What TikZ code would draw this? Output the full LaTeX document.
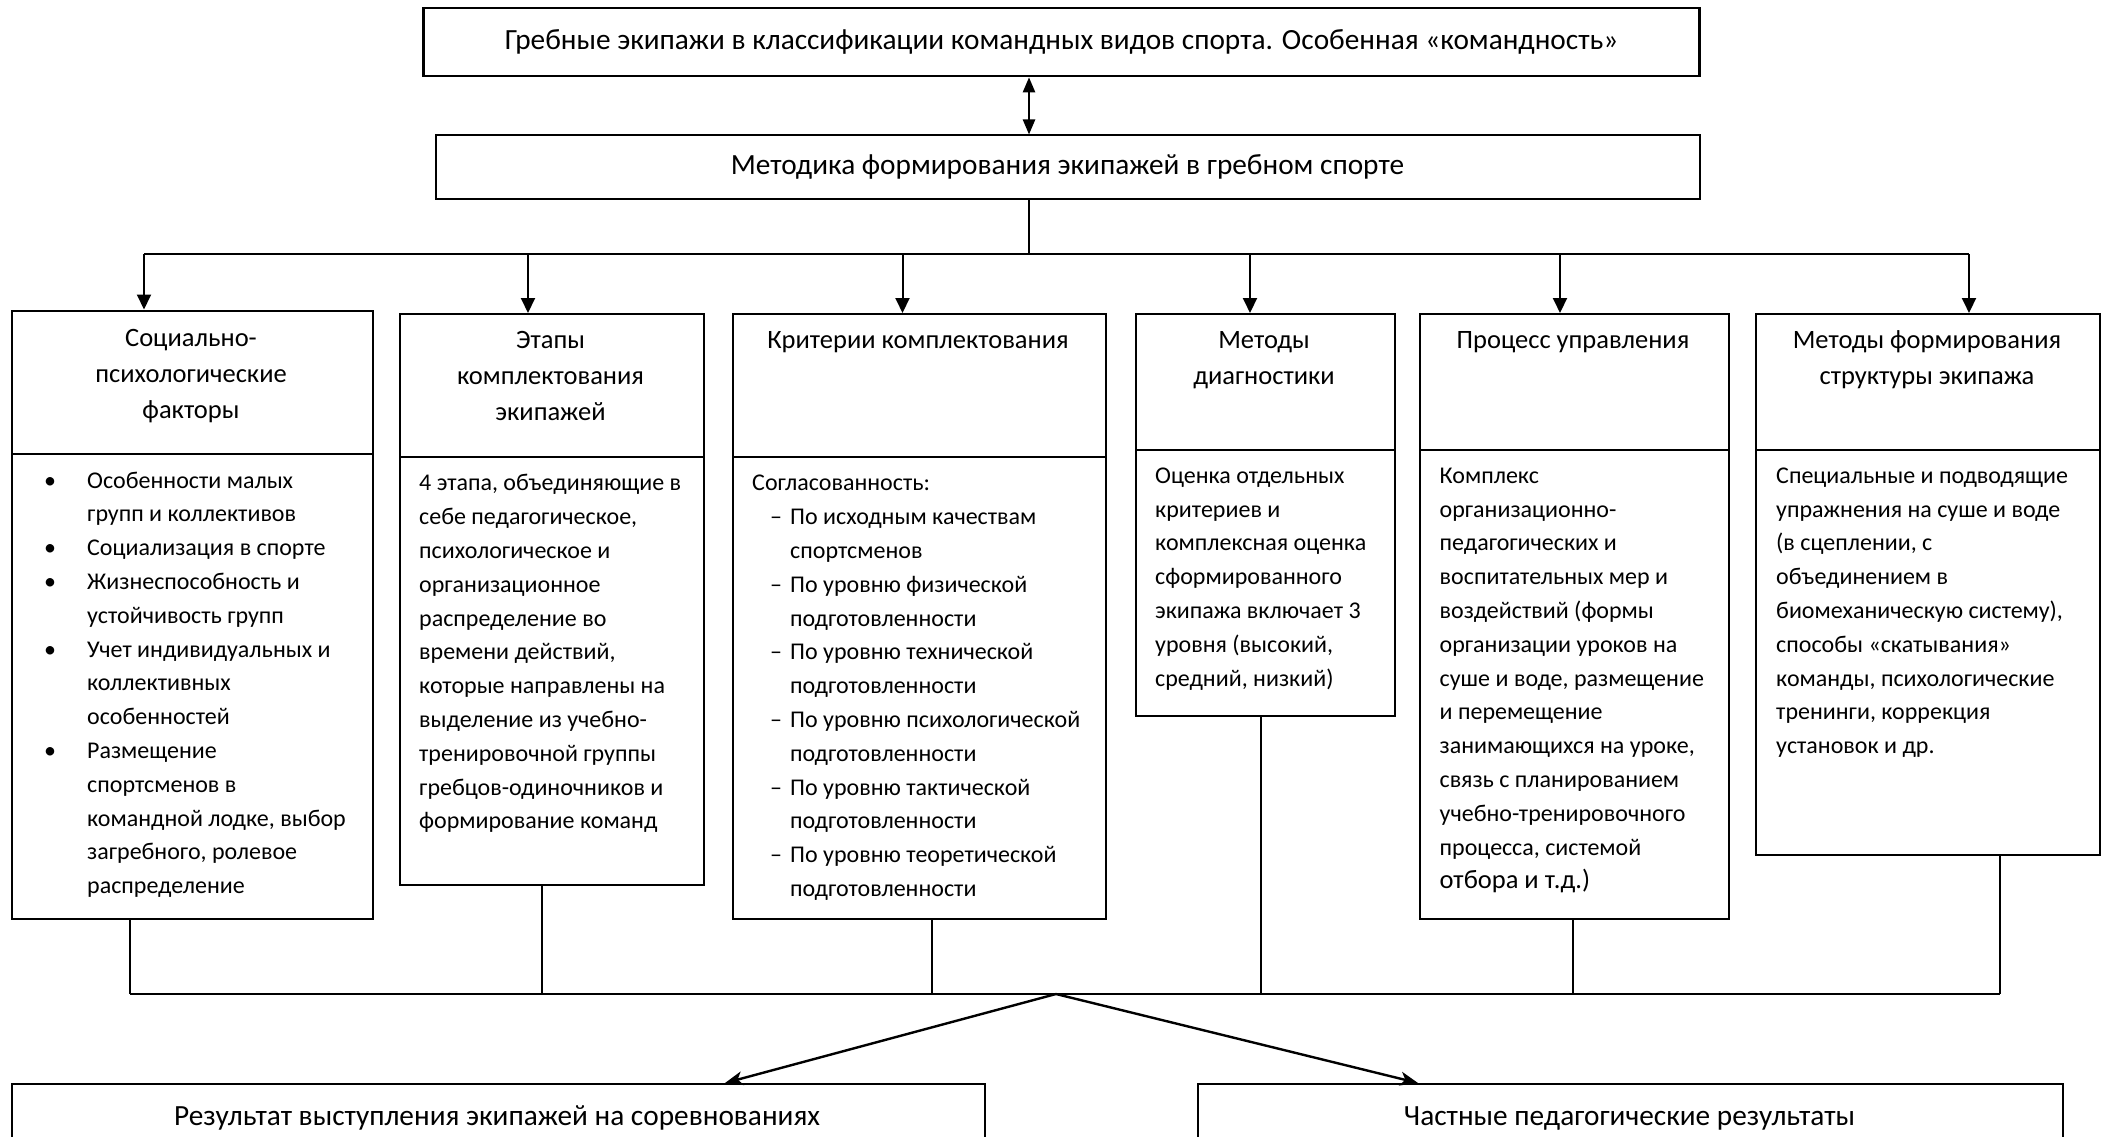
\documentclass[tikz,border=0pt]{standalone}
\usepackage{fontspec}
\setmainfont{Carlito}
\usetikzlibrary{arrows.meta}
\newcommand\bulit{\hspace*{4pt}\makebox[43pt][l]{\textbullet}}
\newcommand\bulco{\hspace*{47pt}}
\newcommand\dshit{\hspace*{18pt}\makebox[20pt][l]{–}}
\newcommand\dshco{\hspace*{38pt}}
\begin{document}
\begin{tikzpicture}[x=1pt,y=-1pt,
  box/.style={draw, line width=2pt, inner sep=0pt, anchor=north west},
  ttl/.style={font=\fontsize{29.3}{34}\selectfont},
  hd/.style={anchor=north, align=center, inner sep=0pt, font=\fontsize{26.5}{36}\selectfont},
  bd/.style={anchor=north west, align=left, inner sep=0pt, font=\fontsize{24}{33.8}\selectfont},
  conn/.style={line width=2pt},
  arr/.style={line width=2pt, -{Triangle[length=15pt,width=14pt]}},
  dbl/.style={line width=2.4pt, {Triangle[length=15pt,width=12pt]}-{Triangle[length=15pt,width=12pt]}},
  arrd/.style={line width=2.4pt, -{Stealth[length=18pt,width=14pt,inset=5pt]}}]
\path[use as bounding box] (0,0) rectangle (2104,1137);
\fill[white] (0,0) rectangle (2104,1137);
\clip (0,0) rectangle (2104,1137);

% top boxes
\node[box, line width=2.6pt, anchor=center, minimum width=1276pt, minimum height=68pt, ttl] (top) at (1061.5,42) {Гребные экипажи в классификации командных видов спорта. Особенная «командность»};
\node[box, anchor=center, minimum width=1264pt, minimum height=63pt, ttl] (met) at (1067.5,167) {Методика формирования экипажей в гребном спорте};

% column frames
\node[box, minimum width=361pt, minimum height=143.5pt] (h1) at (10.5,309.5) {};
\node[box, minimum width=361pt, minimum height=465pt] (b1) at (10.5,453) {};
\node[box, minimum width=304pt, minimum height=142.5pt] (h2) at (398.5,313) {};
\node[box, minimum width=304pt, minimum height=428.5pt] (b2) at (398.5,455.5) {};
\node[box, minimum width=373.5pt, minimum height=142.5pt] (h3) at (731.5,313) {};
\node[box, minimum width=373.5pt, minimum height=462.5pt] (b3) at (731.5,455.5) {};
\node[box, minimum width=259.5pt, minimum height=136pt] (h4) at (1134.5,313) {};
\node[box, minimum width=259.5pt, minimum height=266pt] (b4) at (1134.5,449) {};
\node[box, minimum width=308.5pt, minimum height=136pt] (h5) at (1419,313) {};
\node[box, minimum width=308.5pt, minimum height=469pt] (b5) at (1419,449) {};
\node[box, minimum width=344pt, minimum height=136pt] (h6) at (1755,313) {};
\node[box, minimum width=344pt, minimum height=405pt] (b6) at (1755,449) {};

% header texts
\node[hd] (h1t) at (191,321.4) {\strut Социально-\\психологические\\факторы};
\node[hd] (h2t) at (550.5,322.6) {\strut Этапы\\комплектования\\экипажей};
\node[hd] (h3t) at (918,322.6) {\strut Критерии комплектования};
\node[hd] (h4t) at (1264,322.6) {\strut Методы\\диагностики};
\node[hd] (h5t) at (1573,322.6) {\strut Процесс управления};
\node[hd] (h6t) at (1927,322.6) {\strut Методы формирования\\структуры экипажа};

% body texts
\node[bd] (b1t) at (40,464.2) {\strut\bulit Особенности малых\\
\bulco групп и коллективов\\
\bulit Социализация в спорте\\
\bulit Жизнеспособность и\\
\bulco устойчивость групп\\
\bulit Учет индивидуальных и\\
\bulco коллективных\\
\bulco особенностей\\
\bulit Размещение\\
\bulco спортсменов в\\
\bulco командной лодке, выбор\\
\bulco загребного, ролевое\\
\bulco распределение};

\node[bd] (b2t) at (419,467) {\strut 4 этапа, объединяющие в\\
себе педагогическое,\\
психологическое и\\
организационное\\
распределение во\\
времени действий,\\
которые направлены на\\
выделение из учебно-\\
тренировочной группы\\
гребцов-одиночников и\\
формирование команд};

\node[bd] (b3t) at (752,467) {\strut Согласованность:\\
\dshit По исходным качествам\\
\dshco спортсменов\\
\dshit По уровню физической\\
\dshco подготовленности\\
\dshit По уровню технической\\
\dshco подготовленности\\
\dshit По уровню психологической\\
\dshco подготовленности\\
\dshit По уровню тактической\\
\dshco подготовленности\\
\dshit По уровню теоретической\\
\dshco подготовленности};

\node[bd] (b4t) at (1155,459.5) {\strut Оценка отдельных\\
критериев и\\
комплексная оценка\\
сформированного\\
экипажа включает 3\\
уровня (высокий,\\
средний, низкий)};

\node[bd] (b5t) at (1439.5,459.5) {\strut Комплекс\\
организационно-\\
педагогических и\\
воспитательных мер и\\
воздействий (формы\\
организации уроков на\\
суше и воде, размещение\\
и перемещение\\
занимающихся на уроке,\\
связь с планированием\\
учебно-тренировочного\\
процесса, системой\\
{\fontsize{26.5}{33.8}\selectfont отбора и т.д.)}};

\node[bd] (b6t) at (1776,459.5) {\strut Специальные и подводящие\\
упражнения на суше и воде\\
(в сцеплении, с\\
объединением в\\
биомеханическую систему),\\
способы «скатывания»\\
команды, психологические\\
тренинги, коррекция\\
установок и др.};

% bottom boxes
\node[box, minimum width=973pt, minimum height=120pt] (r1) at (10.7,1083) {};
\node[box, minimum width=865pt, minimum height=120pt] (r2) at (1197,1083) {};
\node[anchor=base, inner sep=0pt, ttl] (r1t) at (497,1125) {Результат выступления экипажей на соревнованиях};
\node[anchor=base, inner sep=0pt, ttl] (r2t) at (1629.5,1125) {Частные педагогические результаты};

% connectors
\coordinate (ax) at (1029,0);
\draw[dbl] (top.south -| ax) -- (met.north -| ax);
\coordinate (bus) at (1029,254);
\draw[conn] (met.south -| ax) -- (bus);
\coordinate (p1) at (144,254);
\coordinate (p2) at (528,254);
\coordinate (p3) at (902.5,254);
\coordinate (p4) at (1250,254);
\coordinate (p5) at (1560,254);
\coordinate (p6) at (1969,254);
\draw[conn] (p1) -- (p6);
\foreach \i in {1,...,6} \draw[arr] (p\i) -- (p\i |- h\i.north);

\coordinate (q1) at (130,994);
\coordinate (q2) at (542,994);
\coordinate (q3) at (931.5,994);
\coordinate (q4) at (1261,994);
\coordinate (q5) at (1573,994);
\coordinate (q6) at (1999.5,994);
\foreach \i in {1,...,6} \draw[line width=2pt] (b\i.south -| q\i) -- (q\i);
\draw[line width=2.6pt] (q1) -- (q6);
\coordinate (apex) at (1056,994);
\coordinate (tl) at (725,0);
\coordinate (tr) at (1418,0);
\draw[arrd] (apex) -- (r1.north -| tl);
\draw[arrd] (apex) -- (r2.north -| tr);
\end{tikzpicture}
\end{document}
